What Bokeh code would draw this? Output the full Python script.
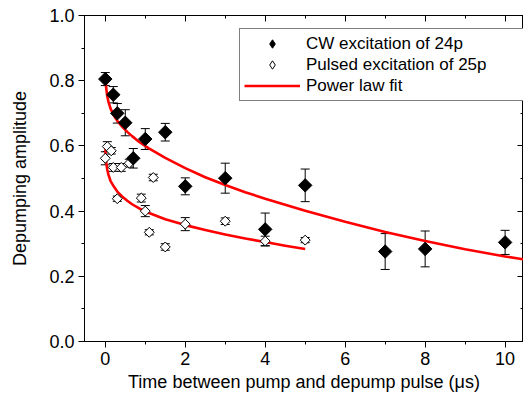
import math
from bokeh.plotting import figure
from bokeh.models import (Range1d, LinearAxis, SingleIntervalTicker, Whisker, TeeHead,
                          ColumnDataSource, Legend, LegendItem, PrintfTickFormatter,
                          CustomLabelingPolicy)
from bokeh.embed import file_html
from bokeh.resources import INLINE

# CW excitation of 24p (filled diamonds)
cw_x = [0, 0.2, 0.3, 0.5, 0.7, 1.0, 1.5, 2, 3, 4, 5, 7, 8, 10]
cw_y = [0.805, 0.757, 0.700, 0.671, 0.562, 0.621, 0.642, 0.476, 0.501, 0.344, 0.479, 0.276, 0.284, 0.304]
cw_err = [0.02, 0.025, 0.03, 0.04, 0.03, 0.032, 0.027, 0.026, 0.046, 0.05, 0.05, 0.055, 0.055, 0.037]

# Pulsed excitation of 25p (open diamonds)
pu_x = [0, 0.05, 0.15, 0.2, 0.3, 0.4, 0.6, 0.9, 1.0, 1.1, 1.2, 1.5, 2, 3, 4, 5]
pu_y = [0.562, 0.598, 0.585, 0.534, 0.438, 0.534, 0.547, 0.440, 0.400, 0.335, 0.503, 0.290, 0.360, 0.369, 0.308, 0.311]
pu_err = [0.02, 0.015, 0.01, 0.012, 0.008, 0.012, 0.012, 0.012, 0.017, 0.008, 0.01, 0.01, 0.02, 0.01, 0.015, 0.008]

# Power law fits
cw_fit_x = [0.0, 0.02, 0.05, 0.08, 0.13, 0.21, 0.3, 0.42, 0.55, 0.67, 0.85, 1.08, 1.5, 2, 2.5, 3, 3.5,
            4, 5, 6, 7, 8, 9, 10, 10.46]
cw_fit_y = [0.822, 0.780, 0.752, 0.735, 0.715, 0.694, 0.677, 0.659, 0.643, 0.630, 0.612, 0.593, 0.563,
            0.532, 0.504, 0.480, 0.458, 0.438, 0.401, 0.367, 0.336, 0.308, 0.283, 0.261, 0.252]
pu_fit_x = [0.0, 0.02, 0.05, 0.08, 0.13, 0.21, 0.3, 0.42, 0.55, 0.67, 0.85, 1.08, 1.5, 2, 2.5, 3, 3.5,
            4, 4.5, 5]
pu_fit_y = [0.598, 0.552, 0.527, 0.511, 0.493, 0.476, 0.460, 0.445, 0.432, 0.421, 0.408, 0.395, 0.375,
            0.357, 0.342, 0.328, 0.316, 0.305, 0.294, 0.284]

x_label = "Time between pump and depump pulse (\u03bcs)"
y_label = "Depumping amplitude"
legend_labels = ["CW excitation of 24p", "Pulsed excitation of 25p", "Power law fit"]

FONT = "Liberation Sans"
FS = "18px"

p = figure(width=523, height=394, output_backend="svg", toolbar_location=None,
           x_range=Range1d(-0.52, 10.46), y_range=Range1d(0, 1.0),
           min_border_left=84, min_border_right=0, min_border_top=15, min_border_bottom=51)
p.background_fill_color = "white"
p.border_fill_color = "white"
p.outline_line_color = "black"
p.outline_line_width = 1
p.xgrid.visible = False
p.ygrid.visible = False

no_labels = CustomLabelingPolicy(code="""
for (const i of indices) { indices.unset(i) }
return indices
""")

def style(ax, ticker, inside=False, labels=True):
    ax.ticker = ticker
    ax.axis_line_color = "black"
    ax.major_tick_line_color = "black"
    ax.minor_tick_line_color = "black"
    if inside:
        ax.major_tick_in, ax.major_tick_out = 6, 0
        ax.minor_tick_in, ax.minor_tick_out = 3, 0
    else:
        ax.major_tick_in, ax.major_tick_out = 0, 6
        ax.minor_tick_in, ax.minor_tick_out = 0, 3
    if labels:
        ax.major_label_text_font = FONT
        ax.major_label_text_font_size = FS
        ax.major_label_text_color = "black"
        ax.axis_label_text_font = FONT
        ax.axis_label_text_font_size = FS
        ax.axis_label_text_font_style = "normal"
        ax.axis_label_text_color = "black"
    else:
        ax.major_label_policy = no_labels
        ax.major_label_text_font_size = "0px"
        ax.major_label_standoff = 0

style(p.xaxis[0], SingleIntervalTicker(interval=2, num_minor_ticks=2))
style(p.yaxis[0], SingleIntervalTicker(interval=0.2, num_minor_ticks=2))
p.yaxis[0].formatter = PrintfTickFormatter(format="%.1f")
p.xaxis[0].axis_label = x_label
p.yaxis[0].axis_label = y_label
p.xaxis[0].major_label_standoff = 4
p.xaxis[0].axis_label_standoff = 4
p.yaxis[0].major_label_standoff = 4
p.yaxis[0].axis_label_standoff = 16

top = LinearAxis()
style(top, SingleIntervalTicker(interval=2, num_minor_ticks=2), inside=True, labels=False)
p.add_layout(top, "above")
right = LinearAxis()
style(right, SingleIntervalTicker(interval=0.2, num_minor_ticks=2), inside=True, labels=False)
p.add_layout(right, "right")

# fits
l1 = p.line(cw_fit_x, cw_fit_y, line_color="#ff0000", line_width=2.6, line_join="round")
p.line(pu_fit_x, pu_fit_y, line_color="#ff0000", line_width=2.6, line_join="round")

# error bars
cw_src = ColumnDataSource(dict(x=cw_x, y=cw_y,
                               lo=[a - b for a, b in zip(cw_y, cw_err)],
                               hi=[a + b for a, b in zip(cw_y, cw_err)]))
pu_src = ColumnDataSource(dict(x=pu_x, y=pu_y,
                               lo=[a - b for a, b in zip(pu_y, pu_err)],
                               hi=[a + b for a, b in zip(pu_y, pu_err)]))
for src in (pu_src, cw_src):
    w = Whisker(source=src, base="x", lower="lo", upper="hi", line_color="black", line_width=1,
                upper_head=TeeHead(size=9, line_color="black", line_width=1),
                lower_head=TeeHead(size=9, line_color="black", line_width=1))
    p.add_layout(w)

# legend-glyph renderers: narrow diamonds drawn under (and hidden by) the real markers
lg_pu = p.scatter("x", "y", source=pu_src, marker="diamond", size=9,
                  fill_color="white", line_color="black", line_width=1)
lg_cw = p.scatter("x", "y", source=cw_src, marker="diamond", size=11,
                  fill_color="black", line_color="black")

p.scatter("x", "y", source=pu_src, marker="square", angle=math.pi / 4, size=7,
          fill_color="white", line_color="black", line_width=1)
p.scatter("x", "y", source=cw_src, marker="square", angle=math.pi / 4, size=9.5,
          fill_color="black", line_color="black")

legend = Legend(items=[LegendItem(label=legend_labels[0], renderers=[lg_cw]),
                       LegendItem(label=legend_labels[1], renderers=[lg_pu]),
                       LegendItem(label=legend_labels[2], renderers=[l1])],
                location=(155, 240))
legend.label_text_font = FONT
legend.label_text_font_size = "17px"
legend.label_text_color = "black"
legend.border_line_color = "black"
legend.border_line_width = 1
legend.background_fill_alpha = 1
legend.padding = 4
legend.margin = 0
legend.spacing = 0
legend.glyph_width = 56
legend.glyph_height = 21
legend.label_height = 21
legend.label_standoff = 6
legend.label_width = 230
p.add_layout(legend)

open("out.html", "w").write(file_html(p, INLINE))
